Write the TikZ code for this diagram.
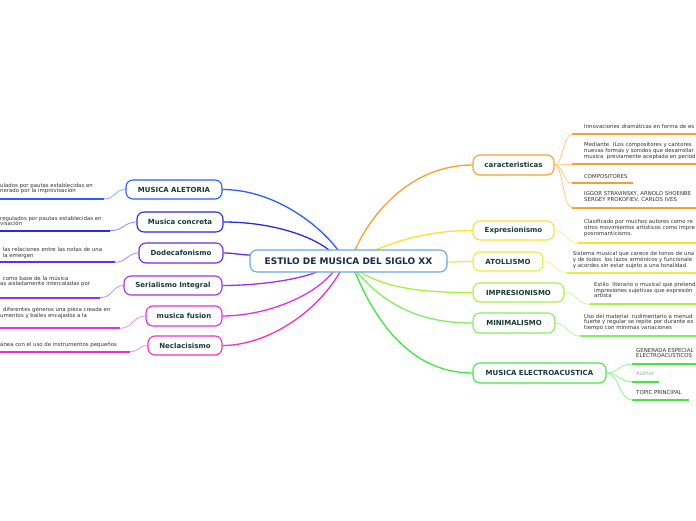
\documentclass[tikz,border=0pt]{standalone}
\usepackage{fontspec}
\setmainfont{DejaVu Sans}
\definecolor{mainc}{HTML}{6AA8E0}
\definecolor{maintxt}{HTML}{1B2A4E}
\definecolor{nodetxt}{HTML}{163A3A}
\definecolor{subtxt}{HTML}{333333}
\definecolor{cA}{HTML}{2E5BFF}
\definecolor{cB}{HTML}{2B2BE0}
\definecolor{cC}{HTML}{6A2AE8}
\definecolor{cD}{HTML}{A030E8}
\definecolor{cE}{HTML}{E030E8}
\definecolor{cF}{HTML}{F530C0}
\definecolor{cG}{HTML}{F5A030}
\definecolor{cH}{HTML}{FFE030}
\definecolor{cI}{HTML}{E4F040}
\definecolor{cJ}{HTML}{AAF040}
\definecolor{cK}{HTML}{80F060}
\definecolor{cL}{HTML}{40E840}
\tikzset{
  topic/.style={draw, line width=1.1pt, rounded corners=7pt, fill=white, text=nodetxt,
    font=\bfseries\fontsize{7}{8}\selectfont, inner sep=0pt, minimum height=19pt},
  maintopic/.style={topic, draw=mainc, text=maintxt, font=\bfseries\fontsize{9}{10}\selectfont, minimum height=22pt},
  lbl/.style={anchor=base west, inner sep=0pt, font=\fontsize{5.4}{6}\selectfont, text=subtxt},
  conn/.style={line width=1.3pt},
  uline/.style={line width=2pt},
  subconn/.style={line width=0.8pt}
}
\begin{document}
\begin{tikzpicture}[x=1pt,y=-1pt]
\useasboundingbox (0,0) rectangle (696,520);
\clip (0,0) rectangle (696,520);
\fill[white] (0,0) rectangle (696,520);

% ---------- connectors from centre ----------
\coordinate (mA) at (338,250);
\coordinate (mB) at (329,250);
\coordinate (mC) at (251,255);
\coordinate (mD) at (317,272);
\coordinate (mE) at (333,272);
\coordinate (mF) at (340,272);
\coordinate (mG) at (355,250);
\coordinate (mH) at (375,250);
\coordinate (mI) at (446,262);
\coordinate (mJ) at (360,272);
\coordinate (mK) at (357,272);
\coordinate (mL) at (355,272);

% left topics
\node[topic, draw=cA, minimum width=96pt] (A) at (174,189.5) {MUSICA ALETORIA};
\node[topic, draw=cB, minimum width=86pt, minimum height=20pt] (B) at (180,222) {Musica concreta};
\node[topic, draw=cC, minimum width=84pt, minimum height=20pt] (C) at (181,253) {Dodecafonismo};
\node[topic, draw=cD, minimum width=98pt] (D) at (173,285.5) {Serialismo Integral};
\node[topic, draw=cE, minimum width=76pt, minimum height=20pt] (E) at (184,316) {musica fusion};
\node[topic, draw=cF, minimum width=74pt] (F) at (185,345.5) {Neclacisismo};
% right topics
\node[topic, draw=cG, minimum width=81pt, minimum height=20pt] (G) at (513.5,165) {caracteristicas};
\node[topic, draw=cH, minimum width=81pt] (H) at (513.5,230.5) {Expresionismo};
\node[topic, draw=cI, minimum width=70pt] (I) at (508,261.5) {ATOLLISMO};
\node[topic, draw=cJ, minimum width=91pt] (J) at (518.5,292.5) {IMPRESIONISMO};
\node[topic, draw=cK, minimum width=82pt, minimum height=20pt] (K) at (514,323) {MINIMALISMO};
\node[topic, draw=cL, minimum width=133pt, minimum height=20pt] (L) at (539.5,373) {MUSICA ELECTROACUSTICA};

\draw[conn, cA] (mA) .. controls (315,220) and (270,189.5) .. (A.east);
\draw[conn, cB] (mB) .. controls (310,235) and (270,222) .. (B.east);
\draw[conn, cC] (mC) .. controls (240,255) and (235,253) .. (C.east);
\draw[conn, cD] (mD) .. controls (290,282) and (250,285.5) .. (D.east);
\draw[conn, cE] (mE) .. controls (310,300) and (260,316) .. (E.east);
\draw[conn, cF] (mF) .. controls (315,315) and (265,345.5) .. (F.east);
\draw[conn, cG] (mG) .. controls (372,212) and (412,165) .. (G.west);
\draw[conn, cH] (mH) .. controls (400,240) and (430,230.5) .. (H.west);
\draw[conn, cI] (mI) .. controls (456,262) and (462,261.5) .. (I.west);
\draw[conn, cJ] (mJ) .. controls (390,290) and (430,292.5) .. (J.west);
\draw[conn, cK] (mK) .. controls (385,305) and (420,323) .. (K.west);
\draw[conn, cL] (mL) .. controls (375,320) and (410,373) .. (L.west);

\node[maintopic, minimum width=197pt] (M) at (348.5,261) {ESTILO DE MUSICA DEL SIGLO XX};

% ---------- left sub-branches ----------
\coordinate (uA) at (104,199);
\coordinate (uB) at (110,230.7);
\coordinate (uC) at (115,262.3);
\coordinate (uD) at (100,297.7);
\coordinate (uE) at (120,328.3);
\coordinate (uF) at (130,351.7);
\coordinate (eA) at (-5,199);
\coordinate (eB) at (-5,230.7);
\coordinate (eC) at (-5,262.3);
\coordinate (eD) at (-5,297.7);
\coordinate (eE) at (-5,328.3);
\coordinate (eF) at (-5,351.7);
\draw[uline, cA] (eA) -- (uA);
\draw[uline, cB] (eB) -- (uB);
\draw[uline, cC] (eC) -- (uC);
\draw[uline, cD] (eD) -- (uD);
\draw[uline, cE] (eE) -- (uE);
\draw[uline, cF] (eF) -- (uF);
\draw[subconn, cA!55] (uA) .. controls (116,199) and (114,189.5) .. (A.west);
\draw[subconn, cB!55] (uB) .. controls (124,230.7) and (124,222) .. (B.west);
\draw[subconn, cC!55] (uC) .. controls (127,262.3) and (127,253) .. (C.west);
\draw[subconn, cD!55] (uD) .. controls (113,297.7) and (112,285.5) .. (D.west);
\draw[subconn, cE!55] (uE) .. controls (133,328.3) and (133,316) .. (E.west);
\draw[subconn, cF!55] (uF) .. controls (139,351.7) and (139,345.5) .. (F.west);

\node[lbl] (a1) at (0,187.1) {ulados por pautas establecidas en};
\node[lbl] (a2) at (0,192.9) {nerado por la improvisación};
\node[lbl] (b1) at (0,220) {regulados por pautas establecidas en};
\node[lbl] (b2) at (0,225.7) {visación};
\node[lbl] (c1) at (2.7,251.6) {las relaciones entre las notas de una};
\node[lbl] (c2) at (2.7,257.3) {la emergen};
\node[lbl] (d1) at (2.7,280) {como base de la música};
\node[lbl] (d2) at (0,285.8) {as aisladamente intercaladas por};
\node[lbl] (e1) at (3,311.6) {diferentes géneros una pieza creada en};
\node[lbl] (e2) at (0,317.3) {umentos y bailes encajados a la};
\node[lbl] (f1) at (0,346.6) {ánea con el uso de instrumentos pequeños};

% ---------- right sub-branches ----------
\coordinate (g1) at (572,134.3);
\coordinate (g2) at (572,164.3);
\coordinate (g3) at (572,183.3);
\coordinate (g4) at (572,207.7);
\coordinate (h1) at (578,242.7);
\coordinate (i1) at (567,272.7);
\coordinate (j1) at (590,304.3);
\coordinate (k1) at (580,336);
\coordinate (l1) at (632,364);
\coordinate (l2) at (632,381.7);
\coordinate (l3) at (632,400);
\coordinate (g1e) at (700,134.3);
\coordinate (g2e) at (700,164.3);
\coordinate (g3e) at (633,183.3);
\coordinate (g4e) at (700,207.7);
\coordinate (h1e) at (700,242.7);
\coordinate (i1e) at (700,272.7);
\coordinate (j1e) at (700,304.3);
\coordinate (k1e) at (700,336);
\coordinate (l1e) at (700,364);
\coordinate (l2e) at (659,381.7);
\coordinate (l3e) at (689,400);
\foreach \s/\e in {g1/g1e,g2/g2e,g3/g3e,g4/g4e}{\draw[uline, cG] (\s) -- (\e);}
\draw[uline, cH] (h1) -- (h1e);
\draw[uline, cI] (i1) -- (i1e);
\draw[uline, cJ] (j1) -- (j1e);
\draw[uline, cK] (k1) -- (k1e);
\foreach \s/\e in {l1/l1e,l2/l2e,l3/l3e}{\draw[uline, cL] (\s) -- (\e);}
\foreach \t in {g1,g2,g3,g4}{\draw[subconn, cG!55] (G.east) .. controls (563,165) and (563,0|-\t) .. (\t);}
\draw[subconn, cH!55] (H.east) .. controls (566,230.5) and (566,242.7) .. (h1);
\draw[subconn, cI!55] (I.east) .. controls (555,261.5) and (555,272.7) .. (i1);
\draw[subconn, cJ!55] (J.east) .. controls (577,292.5) and (577,304.3) .. (j1);
\draw[subconn, cK!55] (K.east) .. controls (567,323) and (567,336) .. (k1);
\foreach \t in {l1,l2,l3}{\draw[subconn, cL!55] (L.east) .. controls (619,373) and (619,0|-\t) .. (\t);}

\node[lbl] (t1) at (584,128.9) {Innovaciones dramáticas en forma de es};
\node[lbl] (t2) at (584,146.6) {Mediante\ \ (Los compositores y cantores};
\node[lbl] (t3) at (584,152.3) {nuevas formas y sonidos que desarrollar};
\node[lbl] (t4) at (584,158) {musica\ \ previamente aceptada en period};
\node[lbl] (t5) at (584,178.3) {COMPOSITORES};
\node[lbl] (t6) at (584,195.6) {IGGOR STRAVINSKY, ARNOLD SHOENBE};
\node[lbl] (t7) at (584,201.4) {SERGEY PROKOFIEV, CARLOS IVES};
\node[lbl] (t8) at (584,223.9) {Clasificado por muchos autores como re};
\node[lbl] (t9) at (584,229.6) {otros movimientos artísticos como impre};
\node[lbl] (t10) at (584,235.1) {posromanticismo.};
\node[lbl] (t11) at (572.7,255.9) {Sistema musical que carece de tonos de una};
\node[lbl] (t12) at (572.7,261.6) {y de todos\ \ los lazos armónicos y funcionale};
\node[lbl] (t13) at (572.7,267.4) {y acordes sin estar sujeto a una tonalidad.};
\node[lbl] (t14) at (594,286.6) {Estilo\ \ literario o musical que pretend};
\node[lbl] (t15) at (594,292.3) {impresiones sujetivas que expresión};
\node[lbl] (t16) at (594,297.9) {artista};
\node[lbl] (t17) at (584,318.3) {Uso del material\ \ rudimentario a menud};
\node[lbl] (t18) at (584,323.9) {fuerte y regular se repite por durante ex};
\node[lbl] (t19) at (584,329.6) {tiempo con mínimas variaciones};
\node[lbl] (t20) at (636,352.3) {GENERADA ESPECIAL};
\node[lbl] (t21) at (636,357.9) {ELECTROACUSTICOS};
\node[lbl, text=black!35] (t22) at (636,375.9) {Author};
\node[lbl] (t23) at (636,394.3) {TOPIC PRINCIPAL};
\end{tikzpicture}
\end{document}
